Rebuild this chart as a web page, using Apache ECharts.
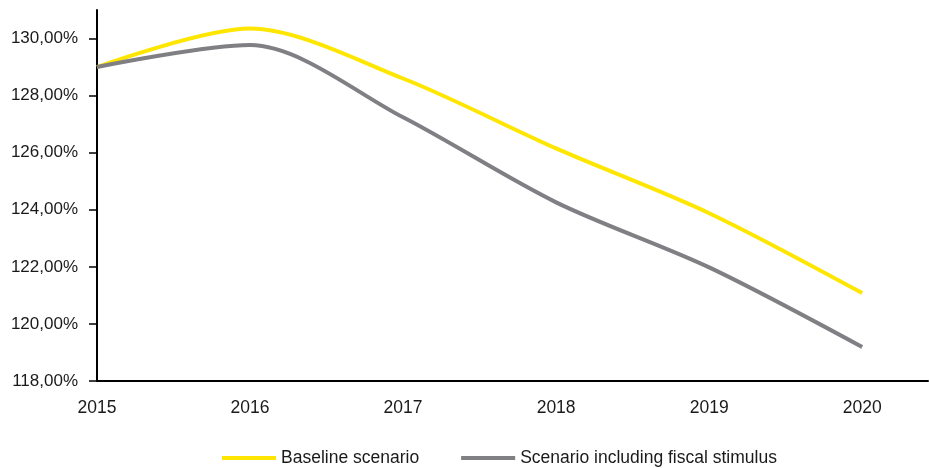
<!DOCTYPE html>
<html>
<head>
<meta charset="utf-8">
<script src="https://cdn.jsdelivr.net/npm/echarts@6/dist/echarts.min.js"></script>
<style>
  html, body { margin: 0; padding: 0; background: #fff; }
  #chart { width: 930px; height: 468px; }
</style>
</head>
<body>
<div id="chart"></div>
<script>
// years on the x axis
var years = [2015, 2016, 2017, 2018, 2019, 2020];
// y axis tick values (percent)
var yTicks = [118, 120, 122, 124, 126, 128, 130];
// debt ratio, % of GDP
var baseline = [129.0, 130.35, 128.6, 126.15, 123.88, 121.08];
var stimulus = [129.0, 129.77, 127.24, 124.26, 121.98, 119.19];

var seriesNames = ['Baseline scenario', 'Scenario including fiscal stimulus'];

function pairs(vals) {
    var out = [];
    for (var i = 0; i < years.length; i++) {
        out.push([years[i], vals[i]]);
    }
    return out;
}

var chart = echarts.init(document.getElementById('chart'));
var txt = { fontFamily: 'Liberation Sans', fontSize: 17.5, color: '#1a1a1a' };

var option = {
    animation: false,
    textStyle: { fontFamily: 'Liberation Sans' },
    grid: { left: 97, right: 2, top: 10, bottom: 87, outerBoundsMode: 'none' },
    legend: {
        left: 222,
        top: 449,
        padding: 0,
        icon: 'rect',
        itemWidth: 54,
        itemHeight: 4,
        itemGap: 42,
        textStyle: txt,
        data: seriesNames
    },
    xAxis: {
        type: 'value',
        min: 2015,
        max: 2020.43,
        interval: 1,
        splitLine: { show: false },
        axisLine: { lineStyle: { color: '#000', width: 2 } },
        axisTick: { show: false },
        axisLabel: {
            margin: 18,
            fontFamily: 'Liberation Sans', fontSize: 17.5, color: '#1a1a1a',
            customValues: years,
            formatter: function (v) { return String(v); }
        }
    },
    yAxis: {
        type: 'value',
        min: 118,
        max: 131,
        interval: 2,
        splitLine: { show: false },
        axisLine: { show: true, lineStyle: { color: '#000', width: 2 } },
        axisTick: { show: true, length: 8, customValues: yTicks, lineStyle: { color: '#000', width: 1.5 } },
        axisLabel: {
            margin: 19,
            fontFamily: 'Liberation Sans', fontSize: 17, color: '#1a1a1a',
            customValues: yTicks,
            formatter: function (v) { return v.toFixed(2).replace('.', ',') + '%'; }
        }
    },
    series: [
        {
            name: seriesNames[0],
            type: 'line',
            smooth: 0.3,
            showSymbol: false,
            symbol: 'none',
            color: '#FFE600',
            lineStyle: { color: '#FFE600', width: 4 },
            data: pairs(baseline)
        },
        {
            name: seriesNames[1],
            type: 'line',
            smooth: 0.3,
            showSymbol: false,
            symbol: 'none',
            color: '#7F7F84',
            lineStyle: { color: '#7F7F84', width: 4 },
            data: pairs(stimulus)
        }
    ]
};
chart.setOption(option);
</script>
</body>
</html>
